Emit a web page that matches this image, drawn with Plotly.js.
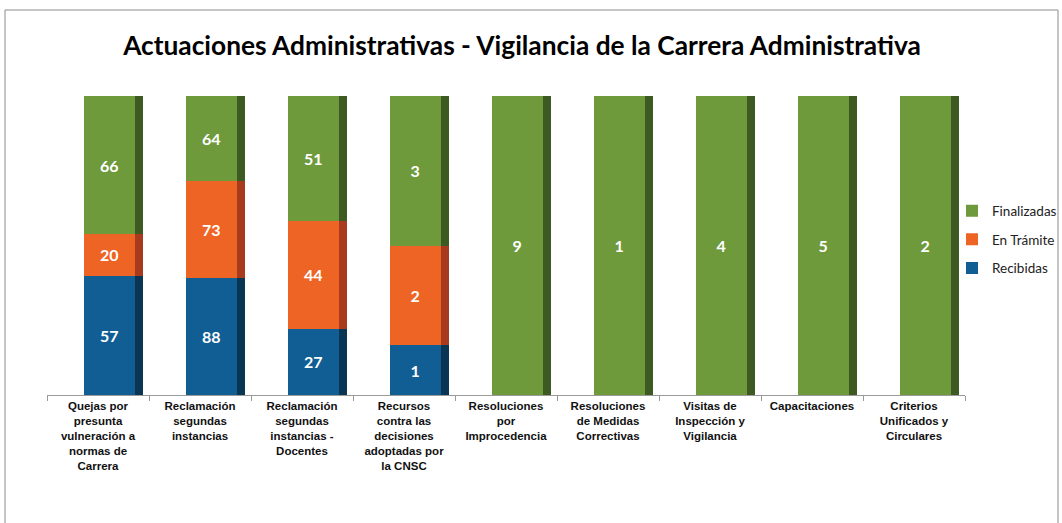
<!DOCTYPE html>
<html>
<head>
<meta charset="utf-8">
<script src="https://cdn.plot.ly/plotly-3.0.1.min.js"></script>
<style>
  html, body { margin: 0; padding: 0; background: #fff; }
  #chart { width: 1062px; height: 523px; }
</style>
</head>
<body>
<div id="chart"></div>
<script>
// categories (x axis)
const categories = [
  "Quejas por<br>presunta<br>vulneración a<br>normas de<br>Carrera",
  "Reclamación<br>segundas<br>instancias",
  "Reclamación<br>segundas<br>instancias -<br>Docentes",
  "Recursos<br>contra las<br>decisiones<br>adoptadas por<br>la CNSC",
  "Resoluciones<br>por<br>Improcedencia",
  "Resoluciones<br>de Medidas<br>Correctivas",
  "Visitas de<br>Inspección y<br>Vigilancia",
  "Capacitaciones",
  "Criterios<br>Unificados y<br>Circulares"
];

const recibidas = [57, 88, 27, 1, null, null, null, null, null];
const enTramite = [20, 73, 44, 2, null, null, null, null, null];
const finalizadas = [66, 64, 51, 3, 9, 1, 4, 5, 2];

const seriesNames = ["Recibidas", "En Trámite", "Finalizadas"];
const seriesValues = [recibidas, enTramite, finalizadas];
const faceColors = ["#115E94", "#EE6424", "#6E9A3C"];
const sideColors = ["#0A3553", "#A83A1E", "#3C5A22"];

// bar face / 3d side placement, in category units
const faceOffset = -0.14, faceWidth = 0.5;
const sideOffset = 0.36, sideWidth = 0.08;

const traces = [];
seriesValues.forEach((vals, i) => {
  traces.push({
    type: "bar",
    name: seriesNames[i],
    legendgroup: "g" + i,
    legendrank: 3 - i,
    x: categories,
    y: vals,
    text: vals.map(v => (v == null ? "" : String(v))),
    texttemplate: "%{text}",
    textposition: "inside",
    insidetextanchor: "middle",
    textfont: { family: "Lato, 'Open Sans', sans-serif", size: 16, color: "#ffffff", weight: "bold" },
    marker: { color: faceColors[i] },
    offset: faceOffset,
    width: faceWidth,
    hoverinfo: "name+text"
  });
});
// darker right side to fake the 3d look
seriesValues.forEach((vals, i) => {
  traces.push({
    type: "bar",
    name: seriesNames[i] + " lado",
    legendgroup: "g" + i,
    x: categories,
    y: vals,
    xaxis: "x2",
    yaxis: "y2",
    marker: { color: sideColors[i] },
    offset: sideOffset,
    width: sideWidth,
    showlegend: false,
    hoverinfo: "skip"
  });
});

const L = 47, R = 0, T = 96, B = 128;
const pw = 1062 - L - R, ph = 523 - T - B;
const plotW = 918;

const layout = {
  width: 1062,
  height: 523,
  margin: { l: L, r: R, t: T, b: B },
  paper_bgcolor: "#ffffff",
  plot_bgcolor: "#ffffff",
  barmode: "stack",
  barnorm: "percent",
  title: {
    text: "<b>Actuaciones Administrativas - Vigilancia de la Carrera Administrativa</b>",
    font: { family: "Lato, 'Open Sans', sans-serif", size: 26.3, color: "#000000" },
    x: 522 / 1062,
    xanchor: "center",
    xref: "container",
    y: 1 - 46 / 523,
    yanchor: "middle"
  },
  xaxis: {
    type: "category",
    domain: [0, plotW / pw],
    showline: true,
    linecolor: "#9a9a9a",
    linewidth: 1,
    ticks: "outside",
    tickson: "boundaries",
    ticklen: 5,
    tickcolor: "#9a9a9a",
    tickangle: 0,
    showgrid: false,
    zeroline: false,
    tickfont: { family: "'Liberation Sans', Arial, sans-serif", size: 11.5, color: "#111111", weight: "bold" }
  },
  yaxis: {
    range: [0, 100],
    visible: false,
    showgrid: false,
    zeroline: false
  },
  xaxis2: {
    type: "category",
    domain: [0, plotW / pw],
    overlaying: "x",
    matches: "x",
    visible: false
  },
  yaxis2: {
    overlaying: "y",
    range: [0, 100],
    visible: false
  },
  legend: {
    x: 1,
    xanchor: "right",
    y: 0.52,
    yanchor: "middle",
    bgcolor: "rgba(0,0,0,0)",
    traceorder: "grouped",
    tracegroupgap: 8,
    font: { family: "Lato, 'Open Sans', sans-serif", size: 13.5, color: "#222222" },
    itemwidth: 30
  },
  shapes: [
    {
      type: "rect",
      xref: "paper",
      yref: "paper",
      x0: (5 - L) / pw,
      x1: (1058 - L) / pw,
      y0: -(B + 10) / ph,
      y1: (523 - 10 - B) / ph,
      line: { color: "#8c8c8c", width: 1 },
      fillcolor: "rgba(0,0,0,0)",
      layer: "below"
    }
  ],
  showlegend: true
};

Plotly.newPlot("chart", traces, layout, { displayModeBar: false, staticPlot: true });
</script>
</body>
</html>
